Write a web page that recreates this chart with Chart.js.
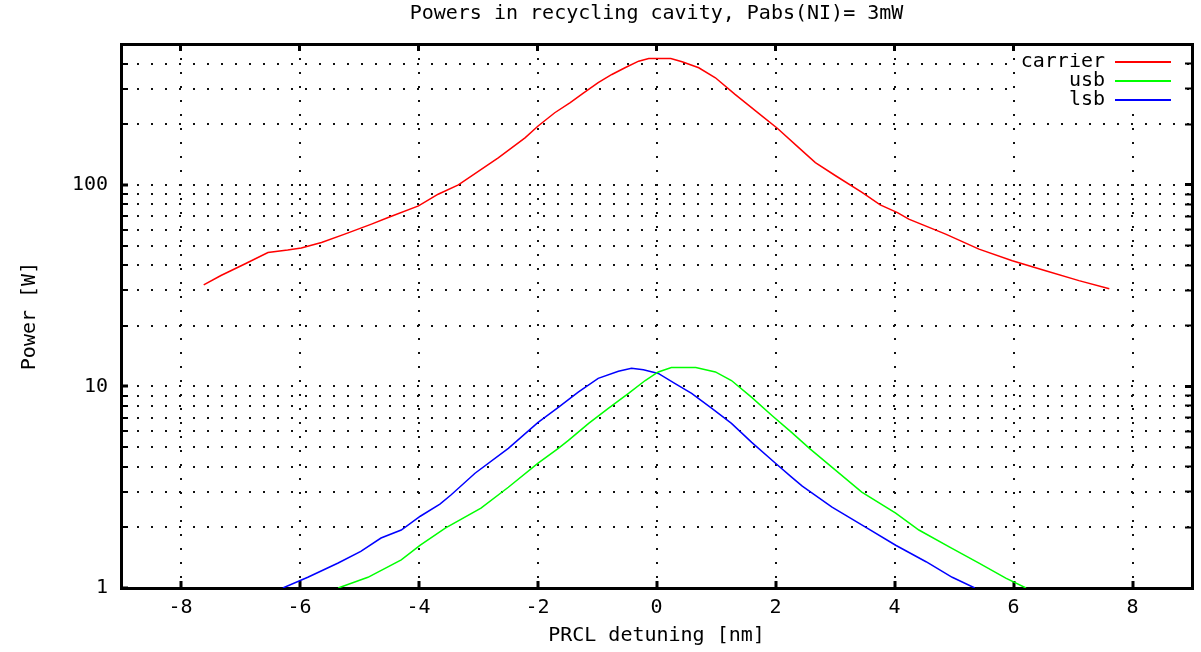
<!DOCTYPE html>
<html>
<head>
<meta charset="utf-8">
<script src="https://cdn.jsdelivr.net/npm/chart.js@4/dist/chart.umd.min.js"></script>
<style>
html,body{margin:0;padding:0;background:#fff;}
#wrap{width:1201px;height:652px;}
</style>
</head>
<body>
<div id="wrap"><canvas id="c" width="1201" height="652"></canvas></div>
<script>
// ---- text ----
const titleText = 'Powers in recycling cavity, Pabs(NI)= 3mW';
const xAxisTitle = 'PRCL detuning [nm]';
const yAxisTitle = 'Power [W]';
const seriesNames = ['carrier', 'usb', 'lsb'];
const seriesColors = ['#ff0000', '#00ff00', '#0000ff'];

// ---- ticks ----
const xTickValues = [-8, -6, -4, -2, 0, 2, 4, 6, 8];
const yTickValues = [1, 2, 3, 4, 5, 6, 7, 8, 9, 10, 20, 30, 40, 50, 60, 70, 80, 90, 100, 200, 300, 400, 500];
const yLabelValues = [1, 10, 100];

// ---- series ----
const carrierX = [-7.61, -7.32, -6.92, -6.53, -6.2, -5.97, -5.63, -5.24, -4.79, -4.51, -4.0, -3.67, -3.33, -2.66, -2.21, -1.99, -1.71, -1.45, -1.23, -0.98, -0.75, -0.53, -0.3, -0.13, 0.24, 0.43, 0.71, 0.99, 1.32, 1.77, 2.03, 2.39, 2.67, 3.01, 3.46, 3.76, 4.05, 4.24, 4.86, 5.42, 5.98, 6.54, 7.1, 7.61];
const carrierY = [31.9, 35.5, 40.5, 46.2, 47.5, 48.6, 51.8, 57.0, 63.9, 68.9, 78.7, 89.9, 100, 136, 171, 196, 228, 256, 285, 322, 353, 381, 411, 424, 424, 408, 381, 340, 281, 220, 191, 153, 129, 111, 91.6, 79.5, 72.9, 67.6, 57.0, 48.0, 42.0, 37.5, 33.5, 30.5];

const usbX = [-5.35, -4.85, -4.29, -3.97, -3.55, -2.95, -2.49, -1.99, -1.65, -1.48, -1.14, -0.81, -0.47, -0.19, 0.03, 0.25, 0.66, 0.99, 1.26, 1.6, 1.94, 2.27, 2.58, 3.45, 4.02, 4.41, 4.92, 5.42, 5.87, 6.21];
const usbY = [1.0, 1.13, 1.38, 1.63, 1.98, 2.49, 3.16, 4.16, 4.93, 5.40, 6.56, 7.78, 9.23, 10.7, 11.8, 12.4, 12.4, 11.8, 10.7, 8.82, 7.18, 5.92, 4.9, 2.99, 2.35, 1.94, 1.6, 1.33, 1.12, 1.0];

const lsbX = [-6.28, -5.86, -5.35, -4.97, -4.63, -4.29, -3.97, -3.64, -3.45, -3.05, -2.49, -1.99, -1.65, -1.48, -1.31, -0.98, -0.64, -0.42, -0.22, 0.03, 0.32, 0.59, 0.93, 1.26, 1.6, 2.0, 2.27, 2.45, 2.95, 3.52, 4.02, 4.53, 4.97, 5.35];
const lsbY = [1.0, 1.13, 1.33, 1.52, 1.77, 1.94, 2.27, 2.61, 2.9, 3.71, 4.93, 6.63, 7.87, 8.6, 9.4, 10.96, 11.9, 12.3, 12.1, 11.6, 10.3, 9.23, 7.78, 6.56, 5.28, 4.16, 3.55, 3.2, 2.52, 2.0, 1.63, 1.35, 1.13, 1.0];

const seriesX = [carrierX, usbX, lsbX];
const seriesY = [carrierY, usbY, lsbY];

// ---- styling ----
const FONT = "'DejaVu Sans Mono', 'Liberation Mono', monospace";
const font20 = { family: FONT, size: 20, weight: 'normal' };
const gridDash = [2, 12];

const datasets = seriesNames.map((name, i) => ({
  label: name,
  data: seriesX[i].map((x, j) => ({ x: x, y: seriesY[i][j] })),
  borderColor: seriesColors[i],
  backgroundColor: seriesColors[i],
  borderWidth: 1.5,
  pointRadius: 0,
  tension: 0,
  fill: false
}));

const legendBgPlugin = {
  id: 'legendPlacer',
  afterLayout(chart) {
    const lg = chart.legend;
    if (!lg) return;
    const w = lg.width;
    lg.right = 1171; lg.left = 1171 - w;
    lg.top = 53; lg.bottom = 53 + 200; lg.height = 200;
    if (!lg._wrapped) {
      const orig = lg.draw;
      lg.draw = function (ca) {
        const c = this.ctx;
        c.save();
        c.fillStyle = '#ffffff';
        c.fillRect(1016, 46, 166, 64);
        c.restore();
        orig.call(this, ca);
      };
      lg._wrapped = true;
    }
  }
};

const tickW = (ctx) => (ctx.tick && yLabelValues.includes(ctx.tick.value)) ? 3 : 2;

new Chart(document.getElementById('c'), {
  type: 'line',
  data: { datasets: datasets },
  plugins: [legendBgPlugin],
  options: {
    responsive: false,
    animation: false,
    devicePixelRatio: 1,
    events: [],
    layout: { padding: 0 },
    plugins: {
      tooltip: { enabled: false },
      title: {
        display: true, text: titleText, fullSize: false,
        font: font20, color: '#000', padding: { top: 2, bottom: 0 }
      },
      legend: {
        position: 'chartArea', align: 'start', rtl: true,
        labels: {
          boxWidth: 57, boxHeight: 2, padding: -1, font: font20, color: '#000', textAlign: 'left',
          generateLabels: (chart) => chart.data.datasets.map((ds, i) => ({
            text: ds.label, fillStyle: ds.borderColor, strokeStyle: ds.borderColor,
            lineWidth: 0, hidden: false, datasetIndex: i, fontColor: '#000'
          }))
        }
      }
    },
    scales: {
      x: {
        type: 'linear', position: 'bottom', min: -9, max: 9,
        afterBuildTicks: (s) => { s.ticks = xTickValues.map(v => ({ value: v })); },
        afterFit: (s) => { s.height = 64; },
        ticks: { autoSkip: false, maxRotation: 0, padding: 15, font: font20, color: '#000', callback: (v) => String(v) },
        grid: { color: '#111', lineWidth: 2, tickLength: -7, tickColor: '#000', tickWidth: 3 },
        border: { display: true, color: '#000', width: 3, dash: gridDash },
        title: { display: true, text: xAxisTitle, font: font20, color: '#000', padding: { top: 0, bottom: 4 } }
      },
      x2: {
        type: 'linear', position: 'top', min: -9, max: 9,
        afterBuildTicks: (s) => { s.ticks = xTickValues.map(v => ({ value: v })); },
        afterFit: (s) => { s.height = 18; },
        ticks: { display: false },
        grid: { drawOnChartArea: false, tickLength: -7, tickColor: '#000', tickWidth: 3 },
        border: { display: true, color: '#000', width: 3 }
      },
      y: {
        type: 'logarithmic', position: 'left', min: 1, max: 500,
        afterBuildTicks: (s) => { s.ticks = yTickValues.map(v => ({ value: v })); },
        afterFit: (s) => { s.width = 121; },
        ticks: { autoSkip: false, padding: 20, font: font20, color: '#000',
          callback: (v) => yLabelValues.includes(v) ? String(v) : '' },
        grid: { color: '#111', lineWidth: 2, tickLength: -7, tickColor: '#000', tickWidth: tickW },
        border: { display: true, color: '#000', width: 3, dash: gridDash },
        title: { display: true, text: yAxisTitle, font: font20, color: '#000', padding: { top: 18, bottom: 0 } }
      },
      y2: {
        type: 'logarithmic', position: 'right', min: 1, max: 500,
        afterBuildTicks: (s) => { s.ticks = yTickValues.map(v => ({ value: v })); },
        afterFit: (s) => { s.width = 9; },
        ticks: { display: false },
        grid: { drawOnChartArea: false, tickLength: -7, tickColor: '#000', tickWidth: tickW },
        border: { display: true, color: '#000', width: 3 }
      }
    }
  }
});
</script>
</body>
</html>
